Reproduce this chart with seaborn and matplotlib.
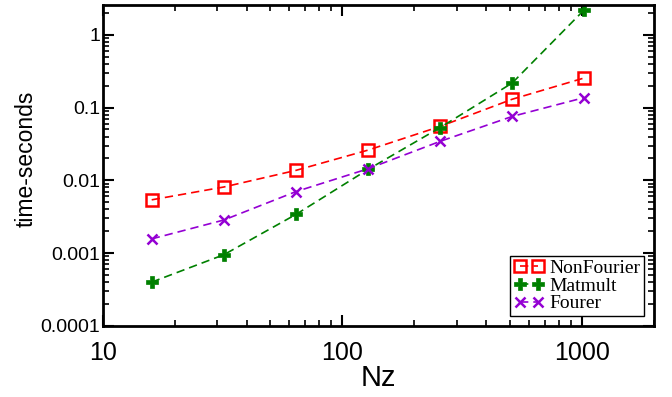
import numpy as np
import pandas as pd
import matplotlib
matplotlib.use("Agg")
import matplotlib.pyplot as plt
import seaborn as sns
from matplotlib.ticker import LogLocator, FixedLocator, FixedFormatter, NullFormatter

nz = [16, 32, 64, 128, 256, 512, 1024]
nonfourier = [0.0054, 0.0081, 0.0137, 0.026, 0.055, 0.130, 0.255]
matmult = [0.00040, 0.00095, 0.0034, 0.0141, 0.053, 0.217, 2.2]
fourer = [0.00157, 0.00285, 0.0070, 0.0144, 0.0343, 0.0755, 0.137]

series_names = ["NonFourier", "Matmult", "Fourer"]
series_values = [nonfourier, matmult, fourer]

xticks = [10, 100, 1000]
xticklabels = ["10", "100", "1000"]
yticks = [0.0001, 0.001, 0.01, 0.1, 1]
yticklabels = ["0.0001", "0.001", "0.01", "0.1", "1"]

df = pd.DataFrame({
    "Nz": nz * len(series_names),
    "time": sum(series_values, []),
    "series": sum([[n] * len(nz) for n in series_names], []),
})

sns.set_style("ticks")
plt.rcParams["font.family"] = ["Liberation Sans", "DejaVu Sans"]
plt.rcParams["text.color"] = "black"
plt.rcParams["axes.labelcolor"] = "black"
plt.rcParams["xtick.color"] = "black"
plt.rcParams["ytick.color"] = "black"

fig = plt.figure(figsize=(6.72, 3.97), dpi=100)
ax = fig.add_axes([0.153, 0.179, 0.820, 0.808])

styles = {
    "NonFourier": dict(color="#ff0000", marker="s", markersize=9, markerfacecolor="none",
                       markeredgecolor="#ff0000", markeredgewidth=1.8),
    "Matmult": dict(color="#008000", marker="P", markersize=9, markerfacecolor="#008000",
                    markeredgecolor="#008000", markeredgewidth=0.5),
    "Fourer": dict(color="#9400d3", marker="x", markersize=7,
                   markeredgecolor="#9400d3", markeredgewidth=1.8),
}

for name in series_names:
    sub = df[df["series"] == name]
    sns.lineplot(data=sub, x="Nz", y="time", ax=ax, label=name,
                 linestyle=(0, (5, 3)), linewidth=1.2, **styles[name])

ax.set_xscale("log")
ax.set_yscale("log")
ax.set_xlim(10, 2000)
ax.set_ylim(1e-4, 2.55)

ax.xaxis.set_major_locator(FixedLocator(xticks))
ax.xaxis.set_major_formatter(FixedFormatter(xticklabels))
ax.yaxis.set_major_locator(FixedLocator(yticks))
ax.yaxis.set_major_formatter(FixedFormatter(yticklabels))
ax.xaxis.set_minor_locator(LogLocator(base=10, subs=np.arange(2, 10)))
ax.yaxis.set_minor_locator(LogLocator(base=10, subs=np.arange(2, 10)))
ax.xaxis.set_minor_formatter(NullFormatter())
ax.yaxis.set_minor_formatter(NullFormatter())

ax.tick_params(which="both", direction="in", top=True, right=True, color="black",
               labelcolor="black")
ax.tick_params(which="major", length=8, width=1.5)
ax.tick_params(axis="y", which="major", labelsize=14, pad=2)
ax.tick_params(axis="x", which="major", labelsize=18, pad=11)
ax.tick_params(which="minor", length=4, width=1.2)
for s in ax.spines.values():
    s.set_linewidth(2)
    s.set_color("black")

ax.set_xlabel("Nz", fontsize=21, labelpad=-1)
ax.set_ylabel("time-seconds", fontsize=16.5)
ax.yaxis.set_label_coords(-0.118, 0.52)

leg = ax.legend(loc="lower right", numpoints=2, fancybox=False, framealpha=1,
                edgecolor="black", prop={"family": "Liberation Serif", "size": 14},
                handlelength=1.5, handletextpad=0.3, labelspacing=0.0,
                borderpad=0.2, borderaxespad=0.5)
leg.get_frame().set_linewidth(1.0)
for t in leg.get_texts():
    t.set_color("black")

fig.savefig("out.png", dpi=100)
